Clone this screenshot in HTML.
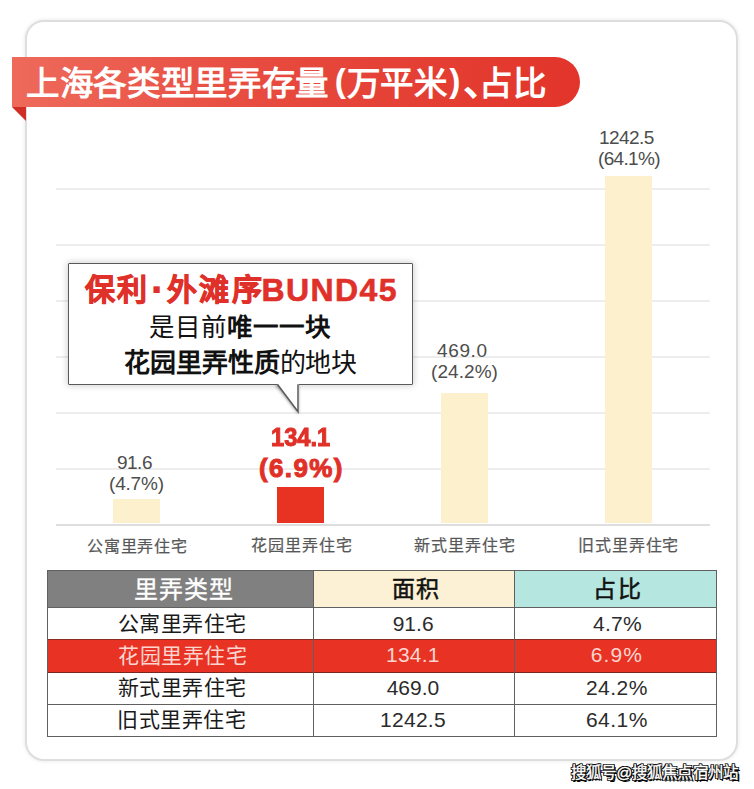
<!DOCTYPE html>
<html lang="zh-CN">
<head>
<meta charset="utf-8">
<style>
*{margin:0;padding:0;box-sizing:border-box;}
html,body{width:754px;height:789px;background:#fff;overflow:hidden;}
body{position:relative;font-family:"Liberation Sans",sans-serif;}
.abs{position:absolute;}
#card{left:25px;top:20px;width:713px;height:741px;border:2px solid #dedede;border-radius:19px;background:#fff;box-shadow:0 0 4px rgba(0,0,0,0.1);}
#banner{left:12px;top:57px;width:568px;height:50px;border-radius:0 25px 25px 0;background:linear-gradient(90deg,#ee6a5b 0%,#e74a3e 45%,#e2342a 100%);}
#fold{left:12px;top:107px;width:0;height:0;border-top:14px solid #cf2e24;border-left:14px solid transparent;}
#title{left:26px;top:59px;height:50px;line-height:50px;color:#fff;font-weight:bold;font-size:33.5px;letter-spacing:0.65px;white-space:nowrap;}
#title .p1{margin-left:6px;position:relative;top:-3.5px;}
#title .p2{margin-left:1.5px;position:relative;top:-3.5px;}
#title .dn{margin-left:3px;margin-right:-18.5px;-webkit-text-stroke:1px #fff;}
.grid{left:56px;width:654px;height:2px;background:#ededed;}
.bar{width:47px;background:#fcf0cd;}
.lb{white-space:nowrap;line-height:1;}
#callout{left:68px;top:263px;width:345px;height:122px;border:1.5px solid #5a5a5a;border-radius:1px;background:#fff;box-shadow:0 0 6px 1px rgba(0,0,0,0.18);}
.hl{left:47px;width:670px;height:1px;background:#606060;}
.vl{top:570px;width:1px;height:167px;background:#606060;}
</style>
</head>
<body>
<div id="card" class="abs"></div>
<div id="banner" class="abs"></div>
<div id="fold" class="abs"></div>
<div id="title" class="abs">上海各类型里弄存量<span class="p1">(</span>万平米<span class="p2">)</span><span class="dn">、</span>占比</div>

<div class="grid abs" style="top:188px"></div>
<div class="grid abs" style="top:244px"></div>
<div class="grid abs" style="top:300px"></div>
<div class="grid abs" style="top:356px"></div>
<div class="grid abs" style="top:412px"></div>
<div class="grid abs" style="top:468px"></div>
<div class="grid abs" style="top:524px;background:#dedede"></div>

<div class="bar abs" style="left:113px;top:499px;height:24px"></div>
<div class="bar abs" style="left:277px;top:487px;height:36px;background:#e83323"></div>
<div class="bar abs" style="left:441px;top:393px;height:130px"></div>
<div class="bar abs" style="left:605px;top:176px;height:347px"></div>

<!--LABELS-->
<div class="lb abs" style="left:117.00px;top:452.95px;letter-spacing:-0.51px;font-size:19px;color:#4d4d4d">91.6</div>
<div class="lb abs" style="left:109.00px;top:473.60px;letter-spacing:-0.19px;font-size:19px;color:#4d4d4d">(4.7%)</div>
<div class="lb abs" style="left:271.00px;top:424.05px;letter-spacing:0.00px;font-size:26px;font-weight:bold;color:#e03027;-webkit-text-stroke:1px #e03027;transform:scaleX(0.91);transform-origin:0 0">134.1</div>
<div class="lb abs" style="left:259.00px;top:454.55px;letter-spacing:1.36px;font-size:26px;font-weight:bold;color:#e03027;-webkit-text-stroke:1px #e03027">(6.9%)</div>
<div class="lb abs" style="left:437.00px;top:340.95px;letter-spacing:0.64px;font-size:19px;color:#4d4d4d">469.0</div>
<div class="lb abs" style="left:431.00px;top:362.25px;letter-spacing:0.07px;font-size:19px;color:#4d4d4d">(24.2%)</div>
<div class="lb abs" style="left:599.00px;top:128.40px;letter-spacing:-0.56px;font-size:19px;color:#4d4d4d">1242.5</div>
<div class="lb abs" style="left:598.00px;top:148.65px;letter-spacing:-0.66px;font-size:19px;color:#4d4d4d">(64.1%)</div>
<!--/LABELS-->

<!--XL-->
<div class="lb abs" style="left:86.80px;top:538.90px;letter-spacing:0.90px;font-size:16px;color:#585858;-webkit-text-stroke:0.2px #585858">公寓里弄住宅</div>
<div class="lb abs" style="left:251.20px;top:537.95px;letter-spacing:0.98px;font-size:16px;color:#585858;-webkit-text-stroke:0.2px #585858">花园里弄住宅</div>
<div class="lb abs" style="left:414.40px;top:537.95px;letter-spacing:0.98px;font-size:16px;color:#585858;-webkit-text-stroke:0.2px #585858">新式里弄住宅</div>
<div class="lb abs" style="left:578.40px;top:537.95px;letter-spacing:0.80px;font-size:16px;color:#585858;-webkit-text-stroke:0.2px #585858">旧式里弄住宅</div>
<!--/XL-->

<div id="callout" class="abs"></div>
<svg class="abs" style="left:262px;top:383px" width="50" height="40" viewBox="262 383 50 40">
<defs><filter id="bl" x="-50%" y="-50%" width="200%" height="200%"><feGaussianBlur stdDeviation="1.8"/></filter>
<clipPath id="cp"><rect x="262" y="385.2" width="50" height="40"/></clipPath></defs>
<g clip-path="url(#cp)"><polygon points="274.5,384 298.5,384 298.5,414" fill="rgba(0,0,0,0.4)" filter="url(#bl)"/></g>
<polygon points="276.6,383.4 298.8,383.4 298.8,412" fill="#fff"/>
<polyline points="277.4,384.3 298,411.8 298,384.3" fill="none" stroke="#5a5a5a" stroke-width="1.5"/>
</svg>
<!--CL-->
<div class="lb abs" style="left:85.20px;top:274.65px;letter-spacing:1.80px;font-size:30px;font-weight:bold;color:#e0302a;-webkit-text-stroke:0.8px #e0302a">保利</div>
<div class="lb abs" style="left:150.40px;top:268.00px;letter-spacing:0.00px;font-size:44px;font-weight:bold;color:#e0302a;">·</div>
<div class="lb abs" style="left:166.80px;top:274.65px;letter-spacing:2.60px;font-size:30px;font-weight:bold;color:#e0302a;-webkit-text-stroke:0.8px #e0302a">外滩序</div>
<div class="lb abs" style="left:261.60px;top:273.70px;letter-spacing:1.37px;font-size:32px;font-weight:bold;color:#e0302a;-webkit-text-stroke:0.6px #e0302a">BUND45</div>
<div class="lb abs" style="left:149.40px;top:314.80px;letter-spacing:-0.13px;font-size:25.5px;color:#111">是目前<b>唯一一块</b></div>
<div class="lb abs" style="left:124.00px;top:349.55px;letter-spacing:-0.08px;font-size:26px;color:#111"><b>花园里弄性质</b>的地块</div>
<!--/CL-->

<div class="abs" style="left:47px;top:570px;width:267px;height:37px;background:#808080"></div>
<div class="abs" style="left:314px;top:570px;width:201px;height:37px;background:#fcf1d4"></div>
<div class="abs" style="left:515px;top:570px;width:201px;height:37px;background:#b6e6e0"></div>
<div class="abs" style="left:47px;top:639px;width:669px;height:33px;background:#e83223"></div>
<div class="hl abs" style="top:570px"></div>
<div class="hl abs" style="top:607px"></div>
<div class="hl abs" style="top:639px;background:#8a2a22"></div>
<div class="hl abs" style="top:672px;background:#7a2520"></div>
<div class="hl abs" style="top:704px"></div>
<div class="hl abs" style="top:736px"></div>
<div class="vl abs" style="left:47px"></div>
<div class="vl abs" style="left:313px"></div>
<div class="vl abs" style="left:514px"></div>
<div class="vl abs" style="left:716px"></div>
<!--TBL-->
<div class="lb abs" style="left:134.10px;top:577.50px;letter-spacing:0.81px;font-size:24px;color:#fff;-webkit-text-stroke:0.3px #fff">里弄类型</div>
<div class="lb abs" style="left:391.50px;top:577.50px;letter-spacing:1.28px;font-size:23px;color:#111;-webkit-text-stroke:0.5px #111">面积</div>
<div class="lb abs" style="left:593.40px;top:577.90px;letter-spacing:1.44px;font-size:23px;color:#111;-webkit-text-stroke:0.5px #111">占比</div>
<div class="lb abs" style="left:118.10px;top:613.40px;letter-spacing:0.36px;font-size:21px;color:#1a1a1a">公寓里弄住宅</div>
<div class="lb abs" style="left:392.70px;top:612.50px;letter-spacing:-0.00px;font-size:21px;color:#2b2b2b">91.6</div>
<div class="lb abs" style="left:593.00px;top:612.50px;letter-spacing:0.27px;font-size:21px;color:#2b2b2b">4.7%</div>
<div class="lb abs" style="left:118.10px;top:645.20px;letter-spacing:0.52px;font-size:21px;color:#fbd6d0">花园里弄住宅</div>
<div class="lb abs" style="left:386.00px;top:644.10px;letter-spacing:0.24px;font-size:21px;color:#fbd6d0">134.1</div>
<div class="lb abs" style="left:590.70px;top:644.10px;letter-spacing:1.16px;font-size:21px;color:#fbd6d0">6.9%</div>
<div class="lb abs" style="left:117.80px;top:677.10px;letter-spacing:0.46px;font-size:21px;color:#1a1a1a">新式里弄住宅</div>
<div class="lb abs" style="left:386.70px;top:676.60px;letter-spacing:0.00px;font-size:21px;color:#2b2b2b">469.0</div>
<div class="lb abs" style="left:586.00px;top:677.00px;letter-spacing:0.44px;font-size:21px;color:#2b2b2b">24.2%</div>
<div class="lb abs" style="left:117.10px;top:709.00px;letter-spacing:0.52px;font-size:21px;color:#1a1a1a">旧式里弄住宅</div>
<div class="lb abs" style="left:380.00px;top:708.90px;letter-spacing:0.28px;font-size:21px;color:#2b2b2b">1242.5</div>
<div class="lb abs" style="left:586.00px;top:708.90px;letter-spacing:0.44px;font-size:21px;color:#2b2b2b">64.1%</div>
<!--/TBL-->

<!--WM-->
<div class="lb abs" style="left:570.70px;top:765.00px;letter-spacing:-0.72px;font-size:15.5px;color:#fff;-webkit-text-stroke:0.4px #fff;text-shadow:1px 0 0 #000,-1px 0 0 #000,0 1px 0 #000,0 -1px 0 #000,1px 1px 0 #000,-1px -1px 0 #000,1px -1px 0 #000,-1px 1px 0 #000,1.5px 1.5px 0 #000">搜狐号@搜狐焦点宿州站</div>
<!--/WM-->
</body>
</html>
